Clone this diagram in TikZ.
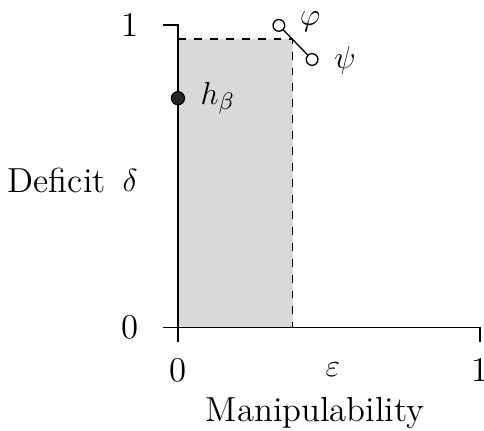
\documentclass[tikz,border=0pt]{standalone}
\usepackage{tikz}
\usetikzlibrary{arrows.meta,positioning}
\tikzset{>=Stealth}

\begin{document}
\begin{tikzpicture}[
    x=4cm, y=4cm,
    axis/.style={line width=0.5pt},
    bound/.style={dashed, line width=0.5pt},
    hollow/.style={draw, circle, fill=white, inner sep=0pt, minimum size=4.4pt, line width=0.5pt},
    solid dot/.style={draw, circle, fill=black!85, inner sep=0pt, minimum size=5pt},
    lbl/.style={font=\fontsize{13.1}{15}\selectfont}
  ]
    \useasboundingbox (-0.589,-0.341) rectangle (1.013,1.083);
    % region of admissible rules
    \fill[gray!30] (0,0) rectangle (0.38,0.954);
    \draw[bound] (0,0.954) -- (0.38,0.954) -- (0.38,0);
    % axes
    \draw[axis] (-0.05,1) -- (0,1) -- (0,-0.05);
    \draw[axis] (-0.05,0) -- (1,0) -- (1,-0.05);
    % tick labels
    \node[lbl] (y1) at (-0.158,1) {1};
    \node[lbl] (y0) at (-0.158,0) {0};
    \node[lbl] (x0) at (0,-0.142) {0};
    \node[lbl] (xe) at (0.513,-0.142) {$\varepsilon$};
    \node[lbl] (x1) at (1,-0.142) {1};
    \node[lbl] (delta) at (-0.158,0.487) {$\delta$};
    \node[lbl] (ylab) at (-0.401,0.487) {Deficit};
    \node[lbl] (xlab) at (0.454,-0.285) {Manipulability};
    % rules
    \node[hollow] (phi) at (0.334,0.999) {};
    \node[hollow] (psi) at (0.444,0.886) {};
    \draw[line width=0.5pt] (phi) -- (psi);
    \node[lbl] (phil) at (0.437,1.01) {$\varphi$};
    \node[lbl] (psil) at (0.553,0.884) {$\psi$};
    \node[solid dot] (hb) at (0,0.758) {};
    \node[lbl] (hbl) at (0.132,0.758) {$h_\beta$};
\end{tikzpicture}
\end{document}
